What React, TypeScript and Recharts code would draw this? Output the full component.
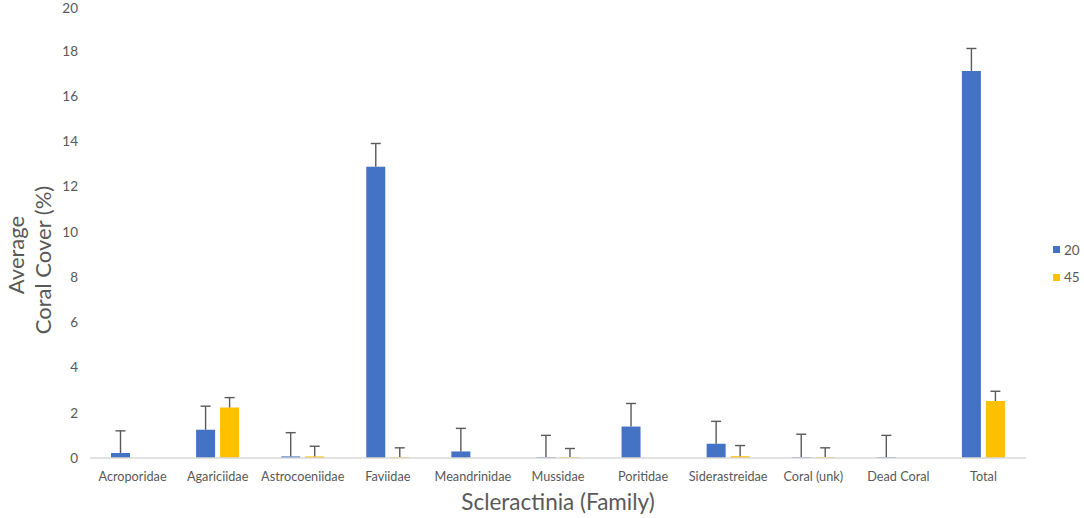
import React from 'react';
import { BarChart, Bar, XAxis, YAxis, Legend } from 'recharts';

const families = [
  'Acroporidae',
  'Agariciidae',
  'Astrocoeniidae',
  'Faviidae',
  'Meandrinidae',
  'Mussidae',
  'Poritidae',
  'Siderastreidae',
  'Coral (unk)',
  'Dead Coral',
  'Total',
];
const cover20 = [0.22, 1.25, 0.07, 12.87, 0.29, 0.04, 1.39, 0.63, 0.04, 0.04, 17.11];
const err20 = [0.98, 1.04, 1.05, 1.03, 1.02, 0.96, 1.02, 0.99, 1.01, 0.96, 0.99];
const cover45 = [null, 2.23, 0.07, 0.04, null, 0.04, null, 0.08, 0.04, null, 2.52];
const err45 = [null, 0.44, 0.45, 0.41, null, 0.38, null, 0.47, 0.41, null, 0.43];
const yTicks = [0, 2, 4, 6, 8, 10, 12, 14, 16, 18, 20];
const seriesNames = ['20', '45'];
const seriesColors = ['#4472C4', '#FFC000'];

const data = families.map((f, i) => ({
  family: f,
  v20: cover20[i],
  e20: err20[i],
  v45: cover45[i],
  e45: err45[i],
}));

const FONT = 'Lato, "Open Sans", sans-serif';
const TEXT = '#595959';

const Whisker = (props: any) => {
  const { x, y, width, height } = props;
  if (x == null || y == null || !(height > 0)) return null;
  const cx = x + width / 2;
  return (
    <g>
      <line x1={cx} x2={cx} y1={y} y2={y + height} stroke="#595959" strokeWidth={1.4} />
      <line x1={cx - 5} x2={cx + 5} y1={y} y2={y} stroke="#595959" strokeWidth={1.4} />
    </g>
  );
};

const YTitle = () => (
  <g>
    <text
      transform="translate(15,255) rotate(-90)"
      textAnchor="middle"
      dominantBaseline="central"
      fill={TEXT}
      fontSize={22}
      fontFamily={FONT}
    >
      Average
    </text>
    <text
      transform="translate(42,260) rotate(-90)"
      textAnchor="middle"
      dominantBaseline="central"
      fill={TEXT}
      fontSize={22}
      fontFamily={FONT}
    >
      Coral Cover (%)
    </text>
  </g>
);

const renderLegend = (props: any) => {
  const items = (props.payload || []).filter((p: any) => seriesNames.includes(String(p.value)));
  return (
    <div>
      {items.map((p: any) => (
        <div key={p.value} style={{ display: 'flex', alignItems: 'center', height: 27.5 }}>
          <span style={{ display: 'inline-block', width: 7, height: 7, background: p.color, marginRight: 4 }} />
          <span style={{ color: TEXT, fontSize: 13.5, fontFamily: FONT }}>{p.value}</span>
        </div>
      ))}
    </div>
  );
};

export default function App() {
  return (
    <div style={{ position: 'absolute', left: 0, top: 0, width: 1084, height: 518, background: '#fff' }}>
      <BarChart
        width={1084}
        height={518}
        data={data}
        margin={{ top: 5.5, right: 58, bottom: 0, left: 0 }}
        barSize={19}
        barGap={5}
      >
        <XAxis
          dataKey="family"
          interval={0}
          tickLine={false}
          tickSize={0}
          tickMargin={14}
          height={60}
          axisLine={{ stroke: '#D9D9D9', strokeWidth: 1.5 }}
          tick={{ fill: TEXT, fontSize: 12.7, fontFamily: FONT }}
          label={{
            value: 'Scleractinia (Family)',
            position: 'insideBottom',
            offset: 8,
            fill: TEXT,
            fontSize: 22.5,
            fontFamily: FONT,
          }}
        />
        <YAxis
          domain={[0, 20]}
          ticks={yTicks}
          axisLine={false}
          tickLine={false}
          tickSize={0}
          tickMargin={12}
          width={90}
          tick={{ fill: TEXT, fontSize: 13.5, fontFamily: FONT }}
          label={<YTitle />}
        />
        <Legend
          layout="vertical"
          align="center"
          verticalAlign="middle"
          content={renderLegend}
          wrapperStyle={{ left: 1053, top: 236, width: 'auto', height: 'auto' }}
        />
        <Bar dataKey="v20" name={seriesNames[0]} stackId="s20" fill={seriesColors[0]} isAnimationActive={false} />
        <Bar dataKey="e20" stackId="s20" legendType="none" shape={<Whisker />} isAnimationActive={false} />
        <Bar dataKey="v45" name={seriesNames[1]} stackId="s45" fill={seriesColors[1]} isAnimationActive={false} />
        <Bar dataKey="e45" stackId="s45" legendType="none" shape={<Whisker />} isAnimationActive={false} />
      </BarChart>
    </div>
  );
}
